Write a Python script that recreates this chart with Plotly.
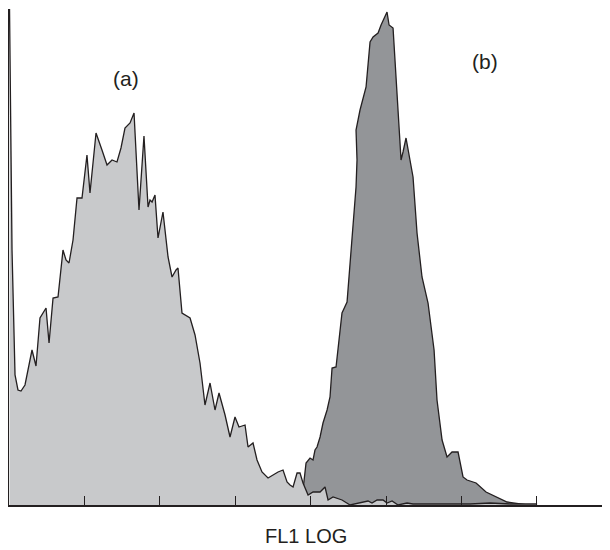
import plotly.graph_objects as go

# Histogram (a): FL1 LOG channel position (decades) and event counts
a_x = [0.007, 0.040, 0.080, 0.119, 0.159, 0.212, 0.305, 0.358, 0.411, 0.491, 0.531, 0.584,
       0.650, 0.716, 0.756, 0.796, 0.849, 0.902, 0.968, 1.034, 1.074, 1.154, 1.233, 1.300,
       1.366, 1.432, 1.485, 1.538, 1.605, 1.658, 1.724, 1.790, 1.844, 1.870, 1.897, 1.936,
       1.976, 2.042, 2.109, 2.162, 2.215, 2.241, 2.294, 2.401, 2.467, 2.533, 2.560, 2.599,
       2.666, 2.732, 2.785, 2.865, 2.931, 2.997, 3.050, 3.130, 3.170, 3.236, 3.289, 3.355,
       3.435, 3.501, 3.568, 3.634, 3.687, 3.727, 3.767, 3.820, 3.859, 3.899, 3.966, 4.032,
       4.125, 4.191, 4.231, 4.297, 4.416, 4.523, 4.629, 4.695, 4.761, 4.814, 4.881, 4.960,
       5.013, 5.080, 5.159, 5.279, 5.358, 5.716, 6.114, 6.379, 6.645, 7.003]
a_y = [496, 255, 130, 115, 114, 120, 155, 139, 187, 197, 162, 207, 208, 255, 245, 242,
       265, 307, 307, 350, 312, 372, 355, 340, 345, 343, 357, 377, 382, 392, 295, 369,
       298, 305, 303, 310, 267, 293, 248, 228, 235, 237, 192, 187, 170, 142, 125, 100,
       122, 95, 112, 90, 68, 88, 78, 80, 58, 62, 45, 33, 27, 30, 33, 35, 23, 20, 18, 32,
       32, 22, 10, 13, 13, 18, 5, 8, 5, 0, 2, 3, 4, 2, 5, 5, 2, 4, 0, 2, 1, 1, 1, 2, 1, 1]

# Histogram (b)
b_x = [3.859, 3.899, 3.939, 3.992, 4.032, 4.058, 4.085, 4.125, 4.164, 4.218, 4.257, 4.284,
       4.337, 4.416, 4.483, 4.562, 4.602, 4.615, 4.602, 4.655, 4.735, 4.788, 4.828, 4.894,
       4.934, 5.013, 5.040, 5.093, 5.133, 5.172, 5.199, 5.225, 5.265, 5.358, 5.411, 5.477,
       5.557, 5.637, 5.676, 5.743, 5.809, 5.875, 5.955, 6.021, 6.074, 6.194, 6.326, 6.605,
       6.830, 6.870]
b_y = [0, 15, 42, 47, 45, 55, 58, 68, 82, 95, 108, 137, 138, 192, 203, 275, 318, 345,
       375, 395, 418, 463, 468, 472, 480, 493, 480, 477, 428, 378, 345, 353, 367, 328,
       272, 228, 202, 155, 105, 65, 48, 53, 53, 28, 25, 22, 13, 3, 1, 0]

LIGHT = "#c8c9cb"
DARK = "#939598"
LINE = "#231f20"
FONT = "Liberation Sans, Arial, sans-serif"

fig = go.Figure()
fig.add_trace(go.Scatter(x=b_x, y=b_y, mode="lines", fill="tozeroy",
                         fillcolor=DARK, line=dict(color=LINE, width=1.3),
                         hoverinfo="skip", showlegend=False))
fig.add_trace(go.Scatter(x=a_x, y=a_y, mode="lines", fill="tozeroy",
                         fillcolor=LIGHT, line=dict(color=LINE, width=1.3),
                         hoverinfo="skip", showlegend=False))

fig.add_annotation(x=1.552, y=427, text="(a)", showarrow=False,
                   xanchor="center", yanchor="middle",
                   font=dict(family=FONT, size=21, color="#231f20"))
fig.add_annotation(x=6.313, y=444, text="(b)", showarrow=False,
                   xanchor="center", yanchor="middle",
                   font=dict(family=FONT, size=21, color="#231f20"))
fig.add_annotation(xref="paper", yref="paper", x=0.494, y=-0.0625, text="FL1 LOG",
                   showarrow=False, xanchor="center", yanchor="middle",
                   font=dict(family=FONT, size=20, color="#231f20"))

fig.update_xaxes(range=[0, 7.97], showline=True, linecolor=LINE, linewidth=1.5,
                 ticks="inside", ticklen=9, tickwidth=1, tickcolor=LINE,
                 tickvals=[1, 2, 3, 4, 5, 6, 7], showticklabels=False,
                 showgrid=False, zeroline=False, fixedrange=True)
fig.update_yaxes(range=[0, 496], showline=True, linecolor=LINE, linewidth=1.5,
                 ticks="", showticklabels=False, showgrid=False, zeroline=False,
                 fixedrange=True)
# page body has an 8px margin, so the figure is sized to end at the window edge
fig.update_layout(width=602, height=542, margin=dict(l=1, r=0, t=1, b=45),
                  paper_bgcolor="white", plot_bgcolor="white",
                  font=dict(family=FONT))
fig.write_html("out.html")
